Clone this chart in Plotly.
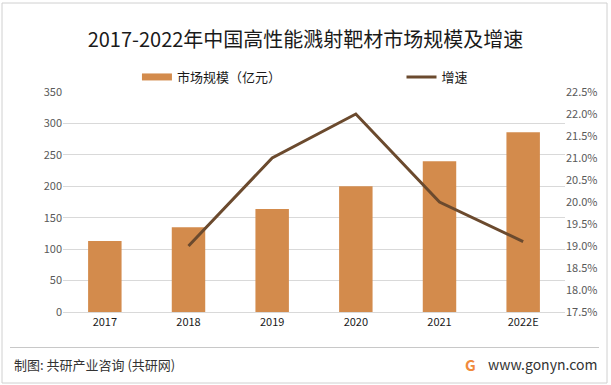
import plotly.graph_objects as go

years = ["2017", "2018", "2019", "2020", "2021", "2022E"]
market_size = [113, 135, 164, 200, 240, 286]
growth_years = ["2018", "2019", "2020", "2021", "2022E"]
growth_rate = [19.0, 21.0, 22.0, 20.0, 19.1]

W, H = 611, 385
L, R, T, B = 63, 46, 92, 73
PW, PH = W - L - R, H - T - B
BAR_COLOR = "#D38B4C"
LINE_COLOR = "#6B4A2E"


def px_x(x):
    return (x - L) / PW


def px_y(y):
    return (H - B - y) / PH


fig = go.Figure()
fig.add_trace(go.Bar(
    x=years, y=market_size, name="市场规模（亿元）",
    marker=dict(color=BAR_COLOR, line=dict(width=0)),
    showlegend=False, yaxis="y",
))
# legend entry with a wide swatch, like the reference
fig.add_trace(go.Scatter(
    x=[None], y=[None], name="市场规模（亿元）", mode="lines",
    line=dict(color=BAR_COLOR, width=7), legend="legend", yaxis="y",
))
fig.add_trace(go.Scatter(
    x=growth_years, y=growth_rate, name="增速", mode="lines",
    line=dict(color=LINE_COLOR, width=3),
    legend="legend2", yaxis="y2",
))

font = "Noto Sans CJK SC, Noto Sans, sans-serif"
fig.update_layout(
    width=W, height=H,
    margin=dict(l=L, r=R, t=T, b=B, autoexpand=False),
    paper_bgcolor="white", plot_bgcolor="white",
    font=dict(family=font, size=11, color="#595959"),
    bargap=0.6,
    title=dict(text="2017-2022年中国高性能溅射靶材市场规模及增速",
               x=0.5, xanchor="center", y=1 - 40 / H, yanchor="middle",
               font=dict(size=20, color="#1a1a1a", family=font)),
    xaxis=dict(type="category", showgrid=False, showline=True, linecolor="#d9d9d9",
               linewidth=1, ticks="", tickfont=dict(size=11, color="#1a1a1a")),
    yaxis=dict(range=[0, 350], dtick=50, showgrid=True, gridcolor="#d9d9d9",
               gridwidth=1, zeroline=False, showline=False, ticks="",
               tickfont=dict(size=11, color="#595959")),
    yaxis2=dict(range=[17.5, 22.5], dtick=0.5, overlaying="y", side="right",
                showgrid=False, zeroline=False, showline=False, ticks="",
                tickformat=".1f", ticksuffix="%",
                tickfont=dict(size=11, color="#595959")),
    legend=dict(orientation="h", x=90 / W, xanchor="left", y=1 - 77 / H,
                yanchor="middle", yref="container", font=dict(size=13, color="#1a1a1a"),
                bgcolor="rgba(0,0,0,0)", itemwidth=30),
    legend2=dict(orientation="h", x=412 / W, xanchor="left", y=1 - 77 / H,
                 yanchor="middle", yref="container", font=dict(size=13, color="#1a1a1a"),
                 bgcolor="rgba(0,0,0,0)", itemwidth=30),
    showlegend=True,
)

# outer border and footer separator
fig.add_shape(type="rect", xref="paper", yref="paper",
              x0=px_x(2), x1=px_x(W - 4), y0=px_y(H - 2), y1=px_y(3),
              line=dict(color="#d0d0d0", width=1))
fig.add_shape(type="line", xref="paper", yref="paper",
              x0=px_x(10), x1=px_x(W - 12), y0=px_y(347.5), y1=px_y(347.5),
              line=dict(color="#c8c8c8", width=1))

fig.add_annotation(text="制图: 共研产业咨询 (共研网)", xref="paper", yref="paper",
                   x=px_x(12), xanchor="left", y=px_y(364), yanchor="middle",
                   showarrow=False, font=dict(size=13, color="#333333", family=font))
fig.add_annotation(text="<b>G</b>", xref="paper", yref="paper",
                   x=px_x(470), xanchor="center", y=px_y(364), yanchor="middle",
                   showarrow=False, font=dict(size=15, color="#F08A3C", family=font))
fig.add_annotation(text="www.gonyn.com", xref="paper", yref="paper",
                   x=px_x(599), xanchor="right", y=px_y(364), yanchor="middle",
                   showarrow=False, font=dict(size=14, color="#333333", family=font))

fig.write_html(
    "out.html",
    config={"displayModeBar": False},
    post_script="document.body.style.margin='0';document.body.style.padding='0';",
)
